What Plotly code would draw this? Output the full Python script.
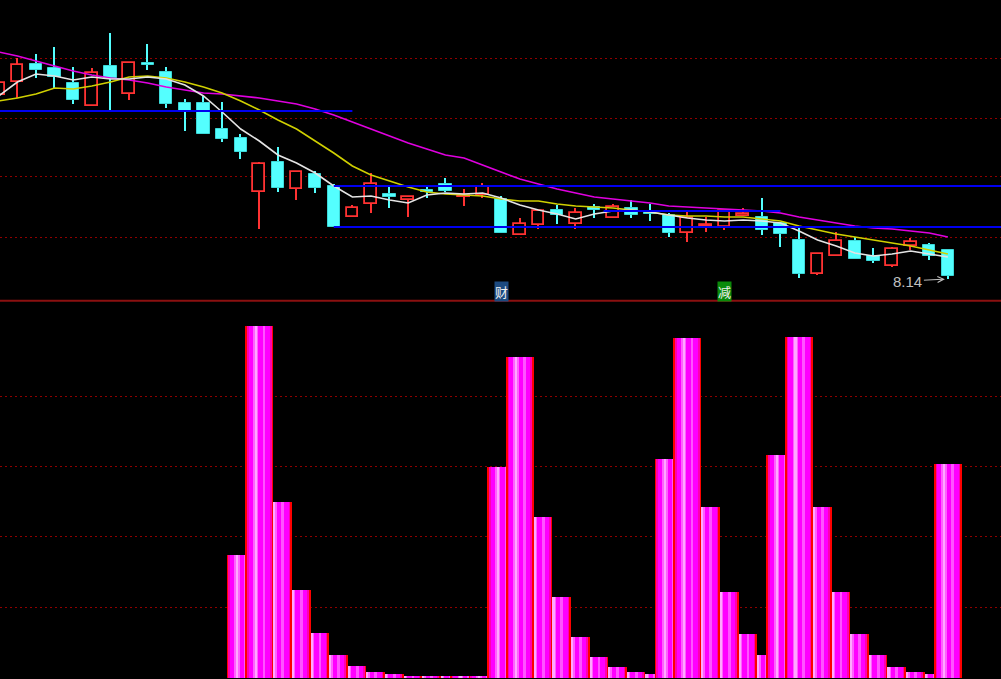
import plotly.graph_objects as go

# ---------------- data ----------------
idx = list(range(-1, 51))
open_ = [9.98, 10.11, 10.29, 10.25, 10.10, 9.87, 10.27, 9.99, 10.30, 10.21,
         9.90, 9.90, 9.64, 9.55, 9.01, 9.31, 9.04, 9.19, 9.07, 8.76,
         8.89, 8.99, 8.93, 9.03, 9.09, 8.96, 8.98, 8.94, 8.58, 8.68,
         8.83, 8.69, 8.86, 8.75, 8.85, 8.81, 8.78, 8.60, 8.67, 8.66,
         8.77, 8.76, 8.70, 8.53, 8.19, 8.37, 8.52, 8.37, 8.27, 8.47,
         8.48, 8.43]
close = [10.10, 10.28, 10.23, 10.16, 9.93, 10.20, 10.15, 10.30, 10.28, 9.89,
         9.82, 9.59, 9.54, 9.41, 9.29, 9.05, 9.21, 9.05, 8.66, 8.85,
         9.09, 8.96, 8.96, 9.01, 9.02, 8.97, 9.06, 8.60, 8.69, 8.82,
         8.78, 8.80, 8.83, 8.86, 8.78, 8.79, 8.60, 8.75, 8.68, 8.82,
         8.79, 8.63, 8.59, 8.19, 8.39, 8.52, 8.34, 8.32, 8.44, 8.51,
         8.37, 8.17]
high = [10.10, 10.35, 10.39, 10.46, 10.26, 10.25, 10.60, 10.30, 10.49, 10.26,
        9.94, 9.97, 9.91, 9.59, 9.31, 9.46, 9.21, 9.22, 9.09, 8.88,
        9.20, 9.06, 8.96, 9.06, 9.15, 9.04, 9.10, 8.97, 8.75, 8.82,
        8.88, 8.85, 8.89, 8.89, 8.93, 8.89, 8.80, 8.81, 8.76, 8.82,
        8.85, 8.95, 8.71, 8.65, 8.40, 8.61, 8.56, 8.45, 8.46, 8.55,
        8.50, 8.43]
low = [9.98, 9.95, 10.15, 10.05, 9.89, 9.87, 9.81, 9.93, 10.23, 9.85,
       9.62, 9.59, 9.51, 9.34, 8.64, 9.01, 8.93, 9.00, 8.66, 8.76,
       8.80, 8.85, 8.76, 8.95, 9.01, 8.87, 8.95, 8.60, 8.58, 8.64,
       8.69, 8.64, 8.75, 8.75, 8.75, 8.72, 8.56, 8.51, 8.61, 8.63,
       8.77, 8.58, 8.46, 8.15, 8.18, 8.37, 8.34, 8.30, 8.26, 8.43,
       8.33, 8.14]
ma5 = [9.97, 10.11, 10.19, 10.17, 10.13, 10.16, 10.14, 10.14, 10.16, 10.14,
       10.08, 9.97, 9.81, 9.64, 9.52, 9.38, 9.30, 9.20, 9.07, 8.96,
       8.97, 8.93, 8.90, 8.98, 9.00, 8.99, 9.00, 8.95, 8.88, 8.83,
       8.79, 8.74, 8.79, 8.82, 8.83, 8.81, 8.78, 8.75, 8.73, 8.72,
       8.73, 8.72, 8.70, 8.62, 8.53, 8.47, 8.40, 8.37, 8.39, 8.42,
       8.39, 8.36]
ma10 = [9.92, 9.95, 9.99, 10.05, 10.04, 10.07, 10.11, 10.16, 10.17, 10.15,
        10.11, 10.06, 10.00, 9.92, 9.83, 9.73, 9.64, 9.52, 9.40, 9.27,
        9.18, 9.12, 9.06, 9.01, 8.99, 8.98, 8.97, 8.94, 8.92, 8.92,
        8.89, 8.87, 8.86, 8.85, 8.83, 8.81, 8.78, 8.77, 8.77, 8.76,
        8.76, 8.74, 8.72, 8.67, 8.63, 8.59, 8.56, 8.53, 8.50, 8.47,
        8.43, 8.39]
ma20 = [10.41, 10.37, 10.32, 10.27, 10.22, 10.18, 10.15, 10.13, 10.10, 10.06,
        10.03, 10.00, 9.99, 9.97, 9.95, 9.92, 9.89, 9.84, 9.78, 9.71,
        9.64, 9.57, 9.50, 9.44, 9.38, 9.35, 9.28, 9.21, 9.14, 9.09,
        9.04, 9.00, 8.96, 8.94, 8.92, 8.90, 8.87, 8.86, 8.85, 8.84,
        8.83, 8.82, 8.80, 8.76, 8.73, 8.70, 8.67, 8.65, 8.64, 8.62,
        8.60, 8.56]

# blue support/resistance levels
level_price = [9.82, 9.07, 8.66, 8.82]
level_from = [-1, 17, 17, 31.5]
level_to = [18, 53, 53, 41]

# signal labels
sig_text = ["财", "减"]
sig_idx = [26, 38]
sig_bg = ["#1c4a80", "#0a8a0a"]

low_label = "8.14"
low_idx = 50
low_price = 8.14

# lower indicator
bar_idx = list(range(12, 51))
bar_val = [1.75, 5.0, 2.5, 1.25, 0.63, 0.32, 0.16, 0.08, 0.05, 0.03,
           0.015, 0.01, 0.01, 0.01, 3.0, 4.56, 2.28, 1.15, 0.58, 0.30,
           0.156, 0.085, 0.05, 3.1, 4.83, 2.43, 1.22, 0.62, 0.32, 3.17,
           4.84, 2.43, 1.22, 0.62, 0.32, 0.156, 0.085, 0.05, 3.03]

grid_price = [8.557, 9.163, 9.747, 10.347]
grid_bar = [1, 2, 3, 4]

# ---------------- style ----------------
RED = "#ff3232"
CYAN = "#54ffff"
XR = [-0.935, 52.854]
H = 679
TOP_PX = 300
BOT_PX = 378

fig = go.Figure()

up = [k for k in range(len(idx)) if close[k] >= open_[k]]
dn = [k for k in range(len(idx)) if close[k] < open_[k]]

def wick(ks, color):
    return go.Bar(x=[idx[k] for k in ks], base=[low[k] for k in ks],
                  y=[high[k] - low[k] for k in ks], width=0.08,
                  marker=dict(color=color, line=dict(width=0)),
                  xaxis="x", yaxis="y", hoverinfo="skip")

fig.add_trace(wick(up, RED))
fig.add_trace(wick(dn, CYAN))
fig.add_trace(go.Bar(x=[idx[k] for k in up], base=[min(open_[k], close[k]) for k in up],
                     y=[max(abs(close[k] - open_[k]), 0.008) for k in up], width=0.63,
                     marker=dict(color="#000000", line=dict(color=RED, width=1.8)),
                     xaxis="x", yaxis="y", hoverinfo="skip"))
fig.add_trace(go.Bar(x=[idx[k] for k in dn], base=[min(open_[k], close[k]) for k in dn],
                     y=[max(abs(close[k] - open_[k]), 0.012) for k in dn], width=0.66,
                     marker=dict(color=CYAN, line=dict(color="#3cd8d8", width=1)),
                     xaxis="x", yaxis="y", hoverinfo="skip"))

for vals, col in [(ma20, "#e000e0"), (ma10, "#d0d000"), (ma5, "#e4e4e4")]:
    fig.add_trace(go.Scatter(x=idx, y=vals, mode="lines", line=dict(color=col, width=1.6),
                             xaxis="x", yaxis="y", hoverinfo="skip"))

for p, a, b in zip(level_price, level_from, level_to):
    fig.add_trace(go.Scatter(x=[a, b], y=[p, p], mode="lines", line=dict(color="#0000f0", width=2),
                             xaxis="x", yaxis="y", hoverinfo="skip"))

# lower bars with cylinder gradient; taller bars drawn on top
BW = 1.5
layers = [("#ff0000", 0.00, 1.00), ("#ff00b0", 0.06, 0.94), ("#ff00ff", 0.12, 0.88),
          ("#ff60ff", 0.27, 0.46), ("#ffa8ff", 0.33, 0.41), ("#ff55ff", 0.62, 0.72)]
order = sorted(range(len(bar_val)), key=lambda k: bar_val[k])
xs, ys, offs, wids, cols = [], [], [], [], []
for k in order:
    for c, f0, f1 in layers:
        xs.append(bar_idx[k]); ys.append(bar_val[k])
        offs.append(-BW / 2 + f0 * BW); wids.append((f1 - f0) * BW); cols.append(c)
fig.add_trace(go.Bar(x=xs, y=ys, offset=offs, width=wids,
                     marker=dict(color=cols, line=dict(width=0)),
                     xaxis="x2", yaxis="y2", hoverinfo="skip"))

annotations = [dict(x=low_idx, y=low_price, xref="x", yref="y", text=low_label,
                    showarrow=True, ax=-40, ay=2, arrowhead=5, arrowsize=1.2, arrowwidth=1,
                    arrowcolor="#c0c0c0", standoff=3,
                    font=dict(family="Liberation Sans", size=15, color="#c0c0c0"))]
for t, i, bg in zip(sig_text, sig_idx, sig_bg):
    annotations.append(dict(x=i, y=8.02, xref="x", yref="y", text=t, showarrow=False,
                            bgcolor=bg, borderpad=0,
                            font=dict(family="Noto Sans CJK SC", size=13, color="#f0f0f0")))

grid_common = dict(showticklabels=False, showgrid=True, gridcolor="#900000", griddash="2px,3px",
                   gridwidth=1, zeroline=False, showline=False, ticks="", fixedrange=True)

fig.update_layout(
    width=1001, height=H, margin=dict(l=0, r=0, t=0, b=0),
    paper_bgcolor="#000000", plot_bgcolor="#000000", showlegend=False,
    barmode="overlay", bargap=0,
    xaxis=dict(domain=[0, 1], range=XR, visible=False, anchor="y"),
    yaxis=dict(domain=[1 - TOP_PX / H, 1], range=[7.93, 10.93], tickvals=grid_price, **grid_common),
    xaxis2=dict(domain=[0, 1], range=XR, visible=False, anchor="y2"),
    yaxis2=dict(domain=[0, BOT_PX / H], range=[-0.0185, 5.351], tickvals=grid_bar, **grid_common),
    annotations=annotations,
    shapes=[dict(type="line", xref="paper", yref="paper", x0=0, x1=1,
                 y0=1 - 300.8 / H, y1=1 - 300.8 / H, line=dict(color="#8b1010", width=2))],
)

fig.write_html("out.html", config={"displayModeBar": False},
               post_script="document.body.style.margin='0';document.body.style.overflow='hidden';")
